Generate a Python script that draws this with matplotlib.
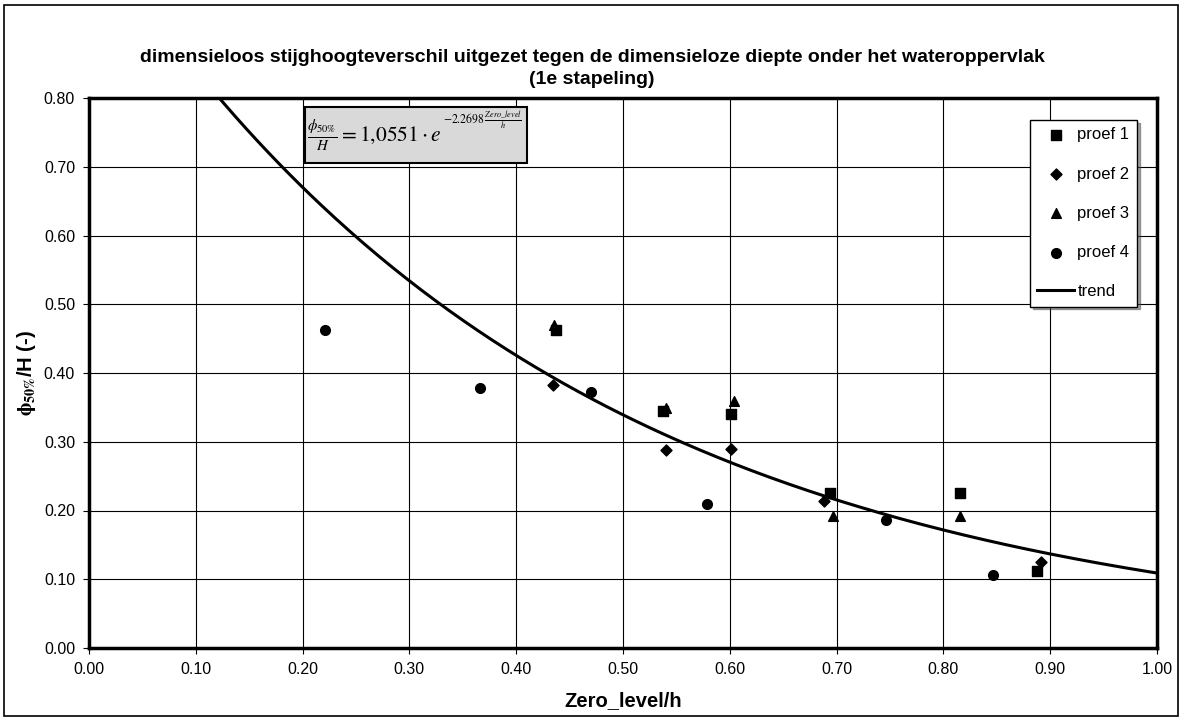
import numpy as np
import matplotlib
matplotlib.use("Agg")
import matplotlib.pyplot as plt
from matplotlib.patches import Rectangle

plt.rcParams['font.family'] = ['Liberation Sans', 'DejaVu Sans']
plt.rcParams['mathtext.fontset'] = 'stix'

# data
p1_x = [0.437, 0.537, 0.601, 0.694, 0.816, 0.888]
p1_y = [0.463, 0.345, 0.341, 0.226, 0.226, 0.112]
p2_x = [0.434, 0.540, 0.601, 0.688, 0.891]
p2_y = [0.382, 0.288, 0.289, 0.214, 0.125]
p3_x = [0.435, 0.540, 0.604, 0.697, 0.816]
p3_y = [0.470, 0.349, 0.359, 0.192, 0.192]
p4_x = [0.221, 0.366, 0.470, 0.579, 0.746, 0.846]
p4_y = [0.4625, 0.378, 0.373, 0.209, 0.186, 0.106]
trend_a = 1.0551
trend_b = -2.2698
x_ticks = [0.0, 0.1, 0.2, 0.3, 0.4, 0.5, 0.6, 0.7, 0.8, 0.9, 1.0]
y_ticks = [0.0, 0.1, 0.2, 0.3, 0.4, 0.5, 0.6, 0.7, 0.8]

W, H = 1184, 720
fig = plt.figure(figsize=(W/100, H/100), dpi=100)
ax = fig.add_axes([89/W, 1-648/H, (1157-89)/W, (648-98)/H])

# outer border
fig.patches.append(Rectangle((4/W, 4/H), 1174/W, 711/H, transform=fig.transFigure,
                             fill=False, edgecolor='black', linewidth=1.2))

ax.set_xlim(0, 1.0)
ax.set_ylim(0, 0.8)
ax.set_xticks(x_ticks)
ax.set_yticks(y_ticks)
ax.set_xticklabels([f"{v:.2f}" for v in x_ticks], fontsize=11.5)
ax.set_yticklabels([f"{v:.2f}" for v in y_ticks], fontsize=11.5)
ax.tick_params(direction='out', length=4, width=0.8, pad=6)
ax.grid(True, color='black', linewidth=0.8)
ax.set_axisbelow(True)
for s in ax.spines.values():
    s.set_linewidth(2.5)

ms = 7
ax.scatter(p1_x, p1_y, marker='s', s=ms**2, color='black', label='proef 1', zorder=3)
ax.scatter(p2_x, p2_y, marker='D', s=(ms*0.8)**2, color='black', label='proef 2', zorder=3)
ax.scatter(p3_x, p3_y, marker='^', s=ms**2, color='black', label='proef 3', zorder=3)
ax.scatter(p4_x, p4_y, marker='o', s=ms**2, color='black', label='proef 4', zorder=3)

xt = np.linspace(0.0, 1.0, 300)
ax.plot(xt, trend_a*np.exp(trend_b*xt), color='black', linewidth=2.2, label='trend', zorder=2)

leg = ax.legend(loc='upper right', bbox_to_anchor=((1137-89)/1068, (648-120)/550),
                frameon=True, fancybox=False, shadow=True, fontsize=12,
                labelspacing=1.45, handlelength=2.2, handletextpad=0.2, borderpad=0.45,
                borderaxespad=0.0, markerscale=1.0)
leg.get_frame().set_edgecolor('black')
leg.get_frame().set_linewidth(1.0)

# formula box
x0p, x1p, y0p, y1p = 305, 527, 107, 163
ax.add_patch(Rectangle((x0p/W, 1-y1p/H), (x1p-x0p)/W, (y1p-y0p)/H, transform=fig.transFigure,
                       facecolor='#d9d9d9', edgecolor='black', linewidth=1.5, zorder=4))
main = fig.text(307/W, 1-136/H, r'$\frac{\phi_{50\%}}{H} = 1{,}0551\cdot e$',
                fontsize=15.5, va='center', ha='left', zorder=5)
fig.canvas.draw()
bb = main.get_window_extent()
fig.text((bb.x1 + 1)/W, 1-120/H, r'$-2.2698\,\frac{Zero\_level}{h}$',
         fontsize=8.5, va='center', ha='left', zorder=5)

fig.text(0.5, 1-57/H, 'dimensieloos stijghoogteverschil uitgezet tegen de dimensieloze diepte onder het wateroppervlak',
         ha='center', va='center', fontsize=14, fontweight='bold')
fig.text(0.5, 1-80/H, '(1e stapeling)', ha='center', va='center', fontsize=14, fontweight='bold')

ax.set_xlabel('Zero_level/h', fontsize=14.5, fontweight='bold', labelpad=10)
ax.set_ylabel(r'$\mathbf{\phi_{50\%}}$/H (-)', fontsize=14.5, fontweight='bold', labelpad=4)

fig.savefig('out.png', dpi=100)
